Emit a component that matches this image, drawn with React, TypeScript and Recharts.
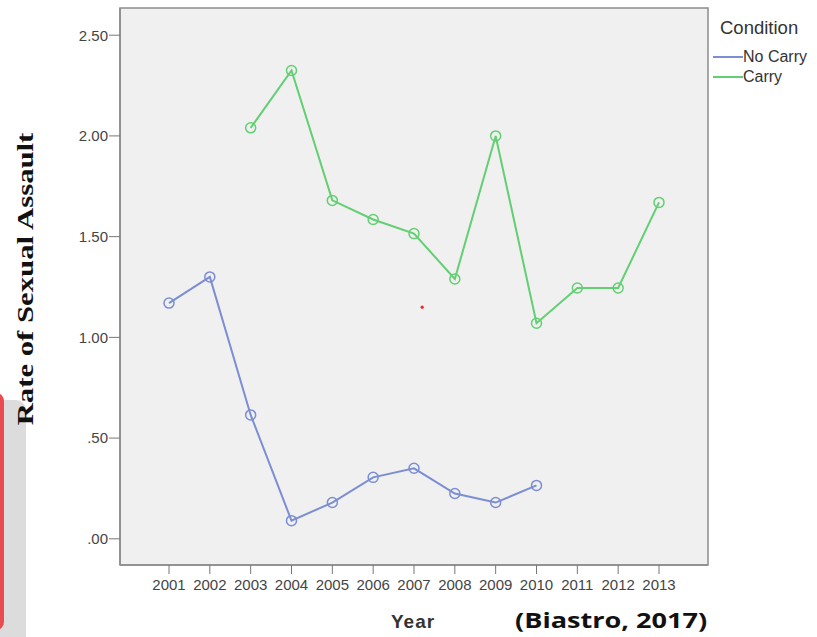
import { LineChart, Line, XAxis, YAxis, ReferenceArea, ReferenceDot } from "recharts";

const years = [2001, 2002, 2003, 2004, 2005, 2006, 2007, 2008, 2009, 2010, 2011, 2012, 2013];
const noCarry = [1.17, 1.3, 0.615, 0.09, 0.18, 0.305, 0.35, 0.225, 0.18, 0.265, null, null, null];
const carry = [null, null, 2.04, 2.325, 1.68, 1.585, 1.515, 1.29, 2.0, 1.07, 1.245, 1.245, 1.67];
const yTicks = [0, 0.5, 1, 1.5, 2, 2.5];
const yTickLabels = [".00", ".50", "1.00", "1.50", "2.00", "2.50"];

const data = years.map((year, i) => ({ year, noCarry: noCarry[i], carry: carry[i] }));

const BLUE = "#7b8ed3";
const GREEN = "#62cf72";
const X_DOMAIN: [number, number] = [1999.8, 2014.2];
const Y_DOMAIN: [number, number] = [-0.13, 2.635];

const tickStyle = { fontSize: 15, fill: "#444", fontFamily: "Liberation Sans, Arial, sans-serif" };

const App = () => {
  return (
    <div style={{ position: "absolute", left: 0, top: 0, width: 817, height: 637, background: "#fff", overflow: "hidden" }}>
      {/* cropped slide elements on the left edge */}
      <div style={{ position: "absolute", left: -20, top: 400, width: 46, height: 260, background: "#dcdcdc", borderTopRightRadius: 10 }} />
      <div style={{ position: "absolute", left: -20, top: 393, width: 24, height: 237, background: "#e94b52", borderRadius: 8 }} />

      <LineChart width={817} height={637} data={data} margin={{ top: 8, right: 109, bottom: 42, left: 0 }}>
        <ReferenceArea
          x1={X_DOMAIN[0]}
          x2={X_DOMAIN[1]}
          y1={Y_DOMAIN[0]}
          y2={Y_DOMAIN[1]}
          fill="#f0f0f0"
          fillOpacity={1}
          stroke="#8c8c8c"
          strokeWidth={1.5}
        />
        <XAxis
          dataKey="year"
          type="number"
          domain={X_DOMAIN}
          ticks={years}
          allowDataOverflow
          height={30}
          tick={tickStyle}
          tickSize={9}
          tickMargin={5}
          axisLine={{ stroke: "#8c8c8c", strokeWidth: 1.5 }}
          tickLine={{ stroke: "#777" }}
        />
        <YAxis
          type="number"
          domain={Y_DOMAIN}
          ticks={yTicks}
          allowDataOverflow
          width={120}
          tick={tickStyle}
          tickSize={11}
          tickMargin={1}
          tickFormatter={(v: number) => yTickLabels[yTicks.indexOf(v)] ?? ""}
          axisLine={{ stroke: "#8c8c8c", strokeWidth: 1.5 }}
          tickLine={{ stroke: "#777" }}
        />
        <ReferenceDot x={2007.2} y={1.15} r={1.6} fill="#ff2020" stroke="none" />
        <Line
          dataKey="noCarry"
          stroke={BLUE}
          strokeWidth={2}
          dot={{ r: 5, stroke: BLUE, strokeWidth: 1.5, fill: "none" }}
          isAnimationActive={false}
        />
        <Line
          dataKey="carry"
          stroke={GREEN}
          strokeWidth={2}
          dot={{ r: 5, stroke: GREEN, strokeWidth: 1.5, fill: "none" }}
          isAnimationActive={false}
        />
      </LineChart>

      {/* legend */}
      <div style={{ position: "absolute", left: 720, top: 17, fontFamily: "Liberation Sans, Arial, sans-serif", color: "#333", fontSize: 18.5 }}>
        Condition
      </div>
      {[{ name: "No Carry", color: BLUE, top: 48 }, { name: "Carry", color: GREEN, top: 68 }].map(item => (
        <div key={item.name} style={{ position: "absolute", left: 713, top: item.top, height: 18, display: "flex", alignItems: "center", fontFamily: "Liberation Sans, Arial, sans-serif", fontSize: 16, color: "#333" }}>
          <div style={{ width: 30, height: 2, background: item.color }} />
          <span>{item.name}</span>
        </div>
      ))}

      {/* axis titles */}
      <div
        style={{
          position: "absolute",
          left: 25,
          top: 279,
          transform: "translate(-50%, -50%) rotate(-90deg) scaleX(1.28)",
          whiteSpace: "nowrap",
          fontFamily: "Liberation Serif, Times New Roman, serif",
          fontWeight: 700,
          fontSize: 24,
          color: "#111",
        }}
      >
        Rate of Sexual Assault
      </div>
      <div style={{ position: "absolute", left: 391, top: 611, fontFamily: "Liberation Sans, Arial, sans-serif", fontWeight: 700, fontSize: 19, color: "#333", letterSpacing: 1 }}>
        Year
      </div>
      <div
        style={{
          position: "absolute",
          left: 515,
          top: 606,
          transform: "scaleX(1.29)",
          transformOrigin: "left center",
          whiteSpace: "nowrap",
          fontFamily: "Open Sans, sans-serif",
          fontWeight: 700,
          fontSize: 21,
          color: "#111",
        }}
      >
        (Biastro, 2017)
      </div>
    </div>
  );
};

export default App;
